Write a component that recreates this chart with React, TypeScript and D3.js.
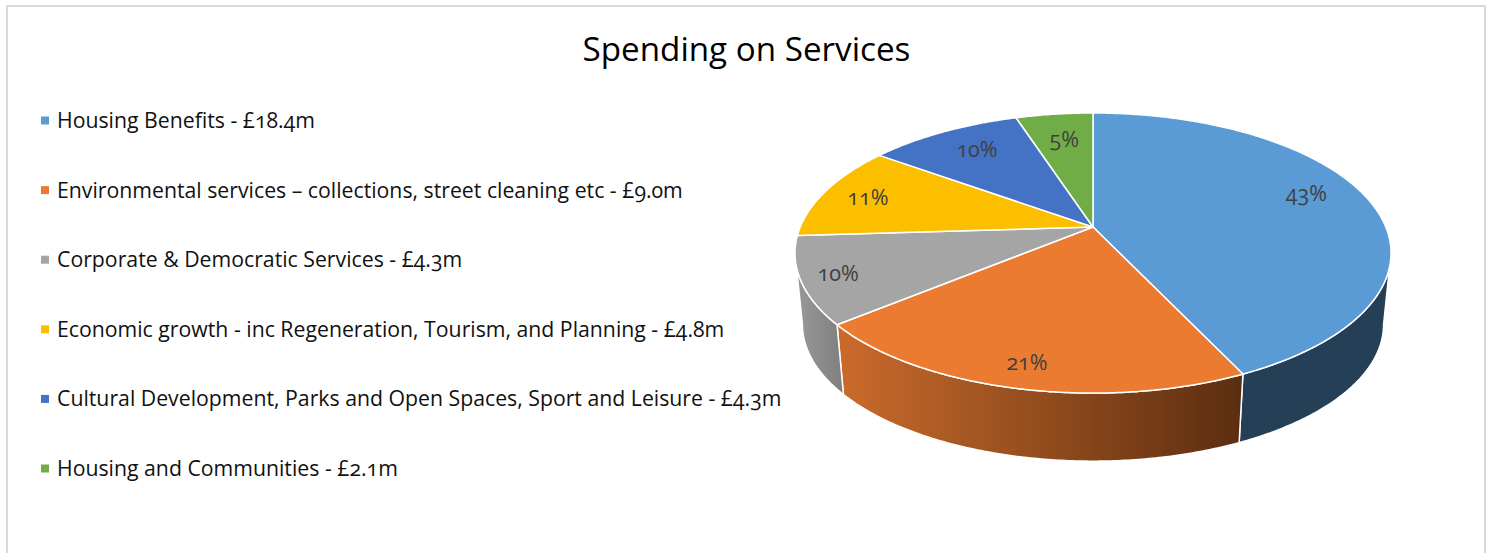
import * as d3 from 'd3'

// Legend text as printed on the chart
const CATEGORIES = [
  'Housing Benefits - £18.4m',
  'Environmental services – collections, street cleaning etc - £9.0m',
  'Corporate & Democratic Services - £4.3m',
  'Economic growth - inc Regeneration, Tourism, and Planning - £4.8m',
  'Cultural Development, Parks and Open Spaces, Sport and Leisure - £4.3m',
  'Housing and Communities - £2.1m',
]
const PERCENTS = [43, 21, 10, 11, 10, 5]
const COLORS = ['#5b9bd5', '#eb7b31', '#a5a5a5', '#fcbf00', '#4472c4', '#70ad47']

const FONT = '"Open Sans", Lato, sans-serif'
const WIDTH = 1492
const HEIGHT = 553

// Perspective tilt of the disc: the near edge is drawn bigger than the far edge
const TILT = 0.186
const CX = 1093
const APEX_Y = 227
const RADIUS_X = 292.8
const RADIUS_Y = 135.2
const DEPTH_SCALE = 0.975
const FLOOR_Y = 299.2

const topX = d3.scaleLinear().domain([-1, 1]).range([CX - RADIUS_X, CX + RADIUS_X])
const topY = d3.scaleLinear().domain([-1, 1]).range([APEX_Y - RADIUS_Y, APEX_Y + RADIUS_Y])
const floorX = d3.scaleLinear().domain([-1, 1]).range([CX - RADIUS_X * DEPTH_SCALE, CX + RADIUS_X * DEPTH_SCALE])
const floorY = d3.scaleLinear().domain([-1, 1]).range([FLOOR_Y - RADIUS_Y * DEPTH_SCALE, FLOOR_Y + RADIUS_Y * DEPTH_SCALE])

// angle is clockwise from 12 o'clock, r is 0..1 along the radius
const project = (angle: number, r = 1): [number, number] => {
  const u = r * Math.sin(angle)
  const v = -r * Math.cos(angle)
  const w = 1 - TILT * v
  return [u / w, v / w]
}
const onTop = (angle: number, r = 1): [number, number] => {
  const [a, b] = project(angle, r)
  return [topX(a), topY(b)]
}
const onFloor = (angle: number): [number, number] => {
  const [a, b] = project(angle)
  return [floorX(a), floorY(b)]
}

const sampleAngles = (start: number, end: number) => {
  const n = Math.max(2, Math.ceil((end - start) / 0.01))
  return d3.range(n + 1).map(i => start + ((end - start) * i) / n)
}

const slices = d3.pie<number>().sort(null).value(d => d)(PERCENTS)
const line = d3.line()

const topPath = (start: number, end: number) =>
  `${line([onTop(0, 0), ...sampleAngles(start, end).map(a => onTop(a))])}Z`

// the wall is only seen between the two points where the rim turns back
const WALL_START = Math.acos(-TILT)
const WALL_END = Math.PI * 2 - WALL_START

const wallPath = (start: number, end: number) => {
  const a = Math.max(start, WALL_START)
  const b = Math.min(end, WALL_END)
  if (a >= b) return null
  const angles = sampleAngles(a, b)
  return `${line([...angles.map(t => onTop(t)), ...angles.reverse().map(onFloor)])}Z`
}

const WALL_FILLS = ['#243f56', 'url(#wallOrange)', 'url(#wallGray)', 'none', 'none', 'none']

// Where the percent labels sit along each slice's radius
const LABEL_RADIUS = [0.77, 0.87, 0.88, 0.835, 0.75, 0.71]
const LABEL_NUDGE = [-11, 0, 0, 1, -3, -3]

const LEGEND_TOP = 120.5
const LEGEND_STEP = 69.6

const App = () => {
  const legendY = d3.scaleLinear().domain([0, 1]).range([LEGEND_TOP, LEGEND_TOP + LEGEND_STEP])

  return (
    <svg
      width={WIDTH}
      height={HEIGHT}
      style={{ position: 'absolute', left: 0, top: 0, background: '#fff', fontFamily: FONT, fontVariantNumeric: 'oldstyle-nums' }}
    >
      <defs>
        <linearGradient id="wallOrange" gradientUnits="userSpaceOnUse" x1={843} x2={1240} y1={0} y2={0}>
          <stop offset="0" stopColor="#c96a2b" />
          <stop offset="1" stopColor="#5c2e10" />
        </linearGradient>
        <linearGradient id="wallGray" gradientUnits="userSpaceOnUse" x1={796} x2={843} y1={0} y2={0}>
          <stop offset="0" stopColor="#999999" />
          <stop offset="1" stopColor="#7f7f7f" />
        </linearGradient>
      </defs>

      {/* chart frame, runs off the bottom of the picture */}
      <path d={`M7,${HEIGHT} V6 H1485 V${HEIGHT}`} fill="none" stroke="#d9d9d9" strokeWidth={2} />

      <text x={746.5} y={61} textAnchor="middle" fontSize={33.2} fill="#000">
        Spending on Services
      </text>

      {CATEGORIES.map((name, i) => (
        <g key={name}>
          <rect x={41} y={legendY(i) - 4} width={8} height={8} fill={COLORS[i]} />
          <text x={57} y={legendY(i) + 7.5} fontSize={21.25} fill="#111">
            {name}
          </text>
        </g>
      ))}

      {slices.map((s, i) => {
        const d = wallPath(s.startAngle, s.endAngle)
        return d && <path key={i} d={d} fill={WALL_FILLS[i]} stroke="#fff" strokeWidth={1.5} strokeLinejoin="round" />
      })}

      {slices.map((s, i) => (
        <path
          key={i}
          d={topPath(s.startAngle, s.endAngle)}
          fill={COLORS[i]}
          stroke="#fff"
          strokeWidth={1.5}
          strokeLinejoin="round"
        />
      ))}

      {slices.map((s, i) => {
        const [x, y] = onTop((s.startAngle + s.endAngle) / 2, LABEL_RADIUS[i])
        return (
          <text key={i} x={x} y={y + LABEL_NUDGE[i] + 7} textAnchor="middle" fontSize={21.5} fill="#404040">
            {PERCENTS[i]}%
          </text>
        )
      })}
    </svg>
  )
}

export default App
